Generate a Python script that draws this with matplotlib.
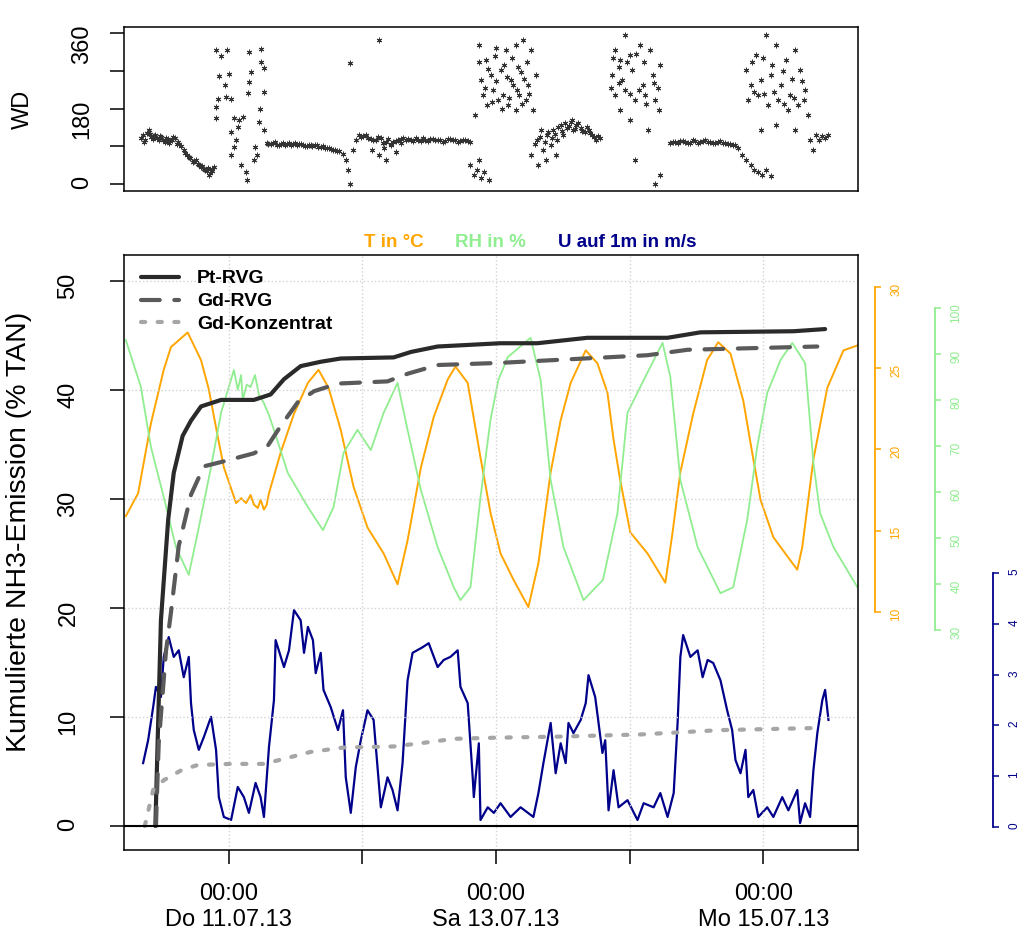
import matplotlib
matplotlib.use('Agg')
import matplotlib.pyplot as plt
import numpy as np

plt.rcParams['font.family'] = ['Liberation Sans', 'DejaVu Sans']

# time in hours since Mi 10.07.13 00:00
day_ticks = [24, 48, 72, 96, 120]
day_labels = ['00:00\nDo 11.07.13', '', '00:00\nSa 13.07.13', '', '00:00\nMo 15.07.13']

# wind direction (top panel)
wd_h = [8.2, 8.7, 9.3, 9.6, 10.0, 10.5, 11.1, 11.6, 12.2, 12.7, 13.2, 13.8, 14.3, 14.8, 15.4, 15.9, 16.5, 17.0,
        17.5, 18.1, 18.6, 19.2, 19.7, 20.2, 20.6, 21.0, 21.3,
        8.5, 9.0, 9.9, 10.3, 10.8, 11.4, 11.9, 12.5, 13.0, 13.5, 14.0, 14.6, 15.1,
        16.2, 16.8, 17.8, 18.4, 19.0, 19.5, 20.0, 20.4, 20.9,
        21.7, 22.6, 23.6, 22.2, 24.0, 23.3, 22.0, 23.5, 24.4, 21.7, 21.7, 24.9, 25.8, 26.5, 24.4, 25.6, 25.3, 24.9,
        24.4, 26.2, 27.1, 27.2, 27.6, 29.7, 29.7, 30.3, 27.9, 27.6, 27.4, 30.3, 29.6, 29.4, 30.3, 28.7, 29.0, 28.5,
        30.8, 31.5, 32.3, 33.0, 33.7, 34.4, 35.1, 35.8, 36.6, 37.3, 38.0, 38.7, 39.4, 40.1, 40.9, 41.6, 42.3, 43.0,
        43.7, 44.5,
        31.1, 31.9, 32.6, 33.4, 34.0, 34.8, 35.5, 36.2, 36.9, 37.7, 38.4, 39.0, 39.8, 40.5, 41.2, 42.0, 42.7, 43.4,
        45.0, 45.4, 45.7, 46.3, 45.7, 46.8, 47.3, 50.9,
        47.7, 48.6, 49.5, 50.4, 51.3, 52.2, 53.1, 54.0, 54.9, 55.8, 56.7, 57.6, 58.5, 59.3, 60.2, 61.1, 62.0, 62.9,
        63.8, 64.7, 65.6, 66.5, 67.4,
        48.1, 49.0, 49.9, 50.8, 51.6, 52.6, 53.5, 54.4, 55.3, 56.2, 57.1, 58.0, 58.9, 59.8, 60.6, 61.5, 62.4, 63.3,
        64.2, 65.1, 66.0, 66.9,
        50.9, 52.2, 51.8, 53.1, 54.0, 49.8, 54.9,
        67.4, 68.0, 68.5, 69.2, 69.9, 70.7, 68.9,
        68.9, 70.1, 72.0, 73.7, 75.5, 76.8, 78.2, 69.2, 71.0, 72.8, 74.6, 76.4, 77.8, 69.6, 71.4, 73.2, 75.0, 76.1,
        77.3, 70.3, 72.3, 74.1, 75.5, 68.3, 78.7, 79.1,
        69.0, 70.6, 71.8, 73.5, 74.8, 76.0, 77.5, 70.0, 72.0, 73.9, 75.8, 77.0, 71.2, 73.0, 74.4, 76.6, 78.0,
        79.4, 80.0, 80.5, 81.1, 81.8, 82.3, 82.9, 83.6, 84.1, 84.7, 85.4, 85.9, 86.4, 87.2, 87.9, 88.6, 89.3, 90.0,
        90.7, 80.9, 82.7, 79.6, 78.2,
        79.0, 79.8, 80.7, 81.4, 82.0, 82.6, 83.2, 83.9, 84.4, 85.1, 85.6, 86.2, 86.8, 87.5, 88.3, 88.9, 89.6, 90.3,
        93.4, 94.3, 95.2, 96.1, 97.9, 99.7, 92.9, 94.7, 96.5, 98.3, 100.1, 101.5, 93.4, 95.2, 97.0, 98.8, 100.6,
        94.3, 96.1, 99.3, 101.2, 97.0, 100.6, 101.5,
        93.0, 94.0, 95.6, 97.2, 98.6, 100.3, 92.6, 94.0, 96.0, 97.6, 99.0, 101.0,
        103.3, 104.2, 105.1, 106.0, 106.9, 107.8, 108.7, 109.6, 110.5, 111.4, 112.3, 113.2, 114.1, 115.0,
        103.7, 104.6, 105.5, 106.4, 107.3, 108.2, 109.1, 110.0, 110.9, 111.8, 112.7, 113.6, 114.5,
        115.5, 116.2, 116.9, 117.7, 118.4, 119.1, 119.8, 120.5, 121.3,
        116.8, 118.6, 120.4, 122.2, 124.0, 125.7, 126.6, 117.7, 119.5, 121.3, 123.1, 124.8, 127.5, 117.3, 119.1,
        120.9, 122.7, 124.5, 126.3, 119.5, 122.2, 125.7, 128.1,
        118.0, 119.9, 121.6, 123.5, 125.2, 126.9, 118.4, 120.2, 122.0, 123.8, 125.5, 127.3,
        128.4, 129.0, 129.5, 130.0, 130.6, 131.1, 131.6]
wd_deg = [110, 100, 122, 129, 112, 114, 110, 114, 105, 110, 98, 105, 110, 100, 91, 81, 69, 62,
          52, 57, 45, 43, 33, 38, 26, 31, 41,
          118, 105, 120, 108, 116, 106, 112, 100, 108, 103, 112, 96, 95,
          75, 65, 55, 48, 40, 36, 30, 22, 35,
          319, 305, 319, 257, 262, 236, 203, 207, 203, 184, 157, 157, 153, 160, 124, 136, 105, 88,
          69, 45, 29, 10, 315, 322, 291, 277, 267, 243, 217, 219, 179, 148, 129, 88, 69, 57,
          98, 95, 100, 93, 97, 95, 92, 98, 95, 93, 90, 94, 92, 88, 90, 86, 84, 80,
          78, 72,
          96, 99, 94, 96, 92, 97, 95, 93, 96, 91, 93, 90, 93, 89, 87, 85, 82, 79,
          57, 33, 0, 81, 288, 105, 117, 343,
          112, 118, 108, 105, 110, 100, 95, 102, 108, 104, 106, 110, 103, 105, 108, 104, 106, 103,
          107, 105, 102, 104, 100,
          115, 110, 104, 112, 98, 107, 100, 104, 110, 107, 103, 106, 109, 102, 107, 105, 101, 108,
          104, 100, 106, 103,
          69, 57, 86, 93, 76, 81, 98,
          45, 21, 33, 14, 29, 10, 57,
          331, 296, 324, 319, 331, 343, 319, 248, 260, 272, 248, 267, 236, 212, 224, 212, 236, 212,
          200, 188, 200, 188, 176, 164, 176, 260,
          290, 275, 305, 285, 300, 280, 290, 230, 245, 255, 225, 250, 195, 180, 205, 190, 215,
          105, 129, 81, 117, 93, 129, 105, 141, 117, 134, 148, 129, 141, 134, 124, 129, 117, 105,
          110, 57, 69, 45, 69,
          95, 112, 100, 124, 110, 120, 136, 126, 145, 138, 152, 132, 145, 127, 137, 121, 112, 115,
          319, 296, 355, 307, 331, 319, 260, 248, 272, 236, 260, 284, 212, 224, 200, 212, 200,
          176, 153, 129, 176, 57, 0, 21,
          300, 280, 290, 310, 290, 240, 230, 240, 215, 225, 190, 230,
          98, 100, 103, 100, 97, 102, 100, 104, 101, 99, 102, 98, 95, 92,
          101, 97, 102, 99, 104, 98, 102, 100, 97, 101, 99, 96, 94,
          86, 69, 57, 45, 33, 29, 21, 33, 19,
          272, 307, 355, 331, 296, 319, 272, 236, 248, 260, 236, 212, 224, 200, 212,
          188, 200, 176, 188, 129, 141, 129, 164,
          290, 300, 285, 270, 250, 245, 220, 215, 220, 190, 205, 200,
          105, 81, 117, 105, 114, 110, 117]

# cumulative NH3 emission (% TAN)
pt_h = [10.8, 11.8, 13.1, 14.1, 15.7, 17.2, 19.0, 22.6, 28.5, 31.5, 33.9, 36.9, 40.5, 44.1, 53.6, 56.7, 61.5,
        72.8, 79.4, 88.4, 102.8, 108.7, 125.4, 131.1]
pt_val = [0, 18.9, 28.1, 32.4, 35.8, 37.2, 38.5, 39.1, 39.1, 39.6, 41.0, 42.2, 42.6, 42.9, 43.0, 43.5, 44.0,
          44.3, 44.3, 44.8, 44.8, 45.3, 45.4, 45.6]
gd_h = [10.9, 11.4, 12.7, 13.6, 15.0, 17.2, 19.5, 22.6, 28.5, 31.0, 33.3, 36.4, 39.3, 43.6, 52.5, 56.1, 61.5,
        72.8, 84.1, 99.2, 106.4, 129.7]
gd_val = [0, 7.6, 16.0, 19.6, 25.7, 30.4, 33.0, 33.4, 34.2, 34.9, 36.7, 38.9, 39.9, 40.6, 40.8, 41.5, 42.3,
          42.5, 42.8, 43.2, 43.7, 44.0]
konz_h = [8.9, 10.4, 12.3, 15.4, 18.4, 24.4, 30.3, 35.7, 38.7, 44.6, 53.6, 58.5, 64.4, 71.6, 83.0, 97.9,
          112.3, 130.2]
konz_val = [0, 3.3, 4.2, 5.1, 5.6, 5.7, 5.7, 6.4, 6.8, 7.2, 7.3, 7.6, 8.0, 8.1, 8.2, 8.4, 8.8, 9.0]

# temperature in degC
t_h = [5.5, 7.7, 10.0, 12.3, 13.6, 16.6, 19.0, 20.4, 22.0, 23.1, 25.3, 26.2, 27.1, 27.9, 28.5, 29.2, 29.7,
       30.3, 30.8, 31.2, 33.3, 35.7,
       38.2, 40.1, 41.9, 44.1, 46.4, 48.9, 51.8, 54.3, 56.1, 58.5, 60.8, 63.3, 64.7, 66.9, 69.2, 71.0, 72.8,
       75.1, 77.8, 79.6, 81.8, 83.6, 85.4, 88.1, 90.2, 92.0, 93.1, 94.3, 96.1, 99.2, 102.4, 103.7, 105.1,
       107.4, 109.9, 111.9, 114.1, 116.4, 118.0, 119.5, 121.8, 124.8, 126.1, 127.0, 129.0, 131.5, 134.4, 136.9]
t_val = [15.9, 17.3, 21.6, 24.9, 26.3, 27.2, 25.5, 23.7, 20.8, 18.9, 16.7, 17.0, 16.7, 17.2, 16.6, 16.4, 16.9,
         16.3, 16.6, 17.3, 19.8, 22.2,
         24.1, 24.9, 23.8, 21.2, 17.7, 15.2, 13.6, 11.7, 14.4, 18.9, 22.0, 24.3, 25.1, 24.1, 19.5, 16.1, 13.6,
         12.0, 10.3, 13.0, 18.6, 21.8, 24.1, 26.1, 25.3, 23.5, 20.6, 18.1, 14.9, 13.6, 11.8, 14.9, 18.6,
         22.2, 25.5, 26.6, 25.9, 23.0, 19.8, 16.9, 14.6, 13.2, 12.6, 14.0, 19.4, 23.8, 26.1, 26.4]

# relative humidity in %
rh_h = [5.5, 8.2, 10.0, 12.3, 14.5, 16.8, 18.4, 20.8, 22.6, 24.9, 25.6, 26.2, 26.5, 27.2, 27.9, 28.7, 29.4,
        30.3, 31.2, 32.1, 34.6, 38.2, 40.9,
        42.8, 44.6, 47.1, 49.5, 51.8, 54.3, 56.1, 58.5, 61.5, 64.4, 65.6, 67.4, 69.2, 71.0, 72.4, 74.1, 78.2,
        80.0, 81.8, 84.1, 87.7, 91.2, 93.8, 95.6, 98.5, 101.9, 103.3, 105.1, 108.2, 112.3, 114.6, 117.1,
        118.9, 120.7, 123.1, 125.2, 127.5, 129.0, 130.2, 132.6, 136.9]
rh_val = [93.0, 82.8, 69.8, 58.9, 48.0, 42.0, 51.1, 65.4, 77.2, 86.5, 82.2, 85.4, 80.0, 83.3, 82.8, 85.4, 81.1,
          79.3, 76.7, 73.5, 64.1, 56.7, 51.7,
          56.7, 68.5, 73.5, 69.1, 77.2, 83.7, 73.5, 60.4, 48.0, 39.3, 36.5, 39.3, 58.9, 75.7, 84.3, 89.3, 93.5,
          84.3, 62.6, 48.0, 36.5, 40.9, 55.4, 77.2, 84.3, 92.4, 85.0, 62.6, 48.0, 38.0, 39.3, 53.9,
          69.8, 81.5, 88.7, 92.4, 88.0, 66.3, 55.4, 48.0, 39.3]

# wind speed at 1 m in m/s
u_h = [8.6, 9.5, 10.4, 10.9, 11.8, 12.3, 13.2, 14.1, 15.0, 15.9, 16.8, 17.2, 17.7, 18.6, 19.5, 20.8, 21.7,
       22.2, 23.1, 24.4, 25.6, 26.7, 27.6, 28.8, 29.7, 30.3, 31.2, 32.1, 32.4, 33.9, 34.8, 35.7, 36.9, 37.5,
       38.2, 39.1, 39.6, 40.5, 41.0, 42.3, 43.6, 44.5, 45.0, 45.9, 46.8, 47.7, 48.9, 50.0, 50.7, 51.3, 52.5,
       53.4, 54.3, 55.2, 56.1, 57.0, 58.8, 59.9, 61.5, 62.6, 63.8, 65.1, 65.6, 66.9, 67.8, 68.0, 68.9, 69.2,
       70.5, 71.6, 72.8, 74.6, 76.4, 78.7, 79.6, 80.5, 81.8, 82.7, 83.6, 84.5, 85.0, 85.9, 87.2, 88.1, 88.6,
       89.8, 90.4, 91.1, 91.6, 92.2, 93.1, 94.0, 95.6, 97.4, 98.5, 100.3, 101.5, 102.8, 103.9, 104.6, 105.1,
       105.6, 106.9, 108.2, 109.1, 110.0, 111.0, 112.3, 113.5, 114.4, 115.0, 115.9, 116.8, 117.3, 118.2,
       119.1, 120.7, 121.8, 123.4, 124.5, 126.1, 126.6, 127.5, 128.4, 129.0, 129.7, 130.6, 131.1, 131.7]
u_val = [1.26, 1.71, 2.36, 2.76, 2.56, 3.35, 3.74, 3.35, 3.48, 2.95, 3.35, 2.44, 1.91, 1.52, 1.77, 2.17, 1.52,
         0.59, 0.20, 0.14, 0.79, 0.59, 0.28, 0.87, 0.59, 0.20, 1.57, 2.50, 3.68, 3.15, 3.48, 4.27, 4.07, 3.43,
         3.94, 3.68, 3.03, 3.43, 2.70, 2.36, 1.91, 2.30, 0.98, 0.28, 1.18, 1.71, 2.30, 2.11, 1.18, 0.39, 0.98,
         0.73, 0.33, 1.26, 2.89, 3.43, 3.54, 3.62, 3.15, 3.29, 3.35, 3.48, 2.76, 2.44, 0.98, 0.59, 1.65, 0.14,
         0.39, 0.28, 0.47, 0.20, 0.39, 0.20, 0.67, 1.26, 2.05, 1.06, 1.65, 1.26, 2.05, 1.85, 2.11, 2.44, 2.99,
         2.56, 2.05, 1.46, 1.71, 0.33, 1.12, 0.39, 0.53, 0.14, 0.47, 0.39, 0.67, 0.20, 0.67, 2.05, 3.35,
         3.78, 3.35, 3.48, 2.95, 3.29, 3.23, 2.89, 2.30, 1.91, 1.32, 1.06, 1.52, 0.59, 0.73,
         0.20, 0.39, 0.20, 0.59, 0.33, 0.73, 0.08, 0.47, 0.20, 1.12, 1.85, 2.50, 2.70, 2.11]

fig = plt.figure(figsize=(10.22, 9.36), dpi=100)

#top panel: wind direction
ax_wd = fig.add_axes([0.1213, 0.7959, 0.7182, 0.1752])
ax_wd.plot(wd_h, wd_deg, linestyle='none', marker=(6, 2, 0), markersize=4, markeredgewidth=0.7,
           color='#333333')
ax_wd.set_xlim(5.16, 137.0)
ax_wd.set_ylim(-16.7, 374.3)
ax_wd.set_xticks([])
ax_wd.set_yticks([0, 90, 180, 270, 360])
ax_wd.set_yticklabels(['0', '', '180', '', '360'])
ax_wd.tick_params(axis='y', labelrotation=90, labelsize=17, length=10, width=1.1, pad=12)
for s in ax_wd.spines.values():
    s.set_linewidth(1.1)
ax_wd.set_ylabel('WD', fontsize=17)
ax_wd.yaxis.set_label_coords(-0.123, 0.5)

#bottom panel: cumulative emission + weather
ax = fig.add_axes([0.1213, 0.0919, 0.7182, 0.6357])
ax_t = ax.twinx()
ax_rh = ax.twinx()
ax_u = ax.twinx()

ax.set_zorder(5)
ax.patch.set_visible(False)

ax_t.plot(t_h, t_val, color='#FFA500', lw=1.4)
ax_rh.plot(rh_h, rh_val, color='#90EE90', lw=1.3)
ax_u.plot(u_h, u_val, color='#00008B', lw=1.6)

ax_t.set_ylim(-4.65, 31.97)
ax_rh.set_ylim(-17.8, 111.5)
ax_u.set_ylim(-0.45, 11.26)

side_axes = [(ax_t, '#FFA500', 12.2, (10, 30), [10, 15, 20, 25, 30]),
             (ax_rh, '#90EE90', 55.4, (30, 100), [30, 40, 50, 60, 70, 80, 90, 100]),
             (ax_u, '#00008B', 97.2, (0, 5), [0, 1, 2, 3, 4, 5])]
for a, col, off, bnd, tks in side_axes:
    for name in ['left', 'top', 'bottom']:
        a.spines[name].set_visible(False)
    a.spines['right'].set_position(('outward', off))
    a.spines['right'].set_bounds(*bnd)
    a.spines['right'].set_color(col)
    a.spines['right'].set_linewidth(1.3)
    a.set_yticks(tks)
    a.tick_params(axis='y', colors=col, labelsize=8.5, labelrotation=90, length=4, width=1.1, pad=7)
    a.set_xlim(5.16, 137.0)

ax.plot(pt_h, pt_val, color='#2a2a2a', lw=3, solid_capstyle='round', label='Pt-RVG')
ax.plot(gd_h, gd_val, color='#5a5a5a', lw=3, dashes=(4.5, 3.5), dash_capstyle='round', label='Gd-RVG')
ax.plot(konz_h, konz_val, color='#a6a6a6', lw=3, dashes=(1, 3), dash_capstyle='round', label='Gd-Konzentrat')
ax.axhline(0, color='black', lw=1.5)

ax.set_xlim(5.16, 137.0)
ax.set_ylim(-2.2, 52.4)
ax.set_yticks([0, 10, 20, 30, 40, 50])
ax.set_xticks(day_ticks)
ax.set_xticklabels(day_labels)
ax.grid(True, color='#d3d3d3', linestyle=':', lw=1)
ax.tick_params(axis='y', labelrotation=90, labelsize=17, length=10, width=1.1, pad=22)
ax.tick_params(axis='x', labelsize=17, length=10, width=1.1, pad=14)
for s in ax.spines.values():
    s.set_linewidth(1.1)
ax.set_ylabel('Kumulierte NH3-Emission (% TAN)', fontsize=20.5)
ax.yaxis.set_label_coords(-0.125, 0.535)

ax.legend(loc='upper left', bbox_to_anchor=(0.012, 0.988), borderaxespad=0, frameon=False,
          prop={'weight': 'bold', 'size': 14}, handlelength=2.0, handletextpad=0.9, labelspacing=0.27)

#colored header for the weather lines
fig.text(394 / 1022, 0.7404, 'T in °C', color='#FFA500', fontsize=13.5, fontweight='bold', ha='center', va='center')
fig.text(490 / 1022, 0.7404, 'RH in %', color='#90EE90', fontsize=13.5, fontweight='bold', ha='center', va='center')
fig.text(627 / 1022, 0.7404, 'U auf 1m in m/s', color='#00008B', fontsize=13.5, fontweight='bold', ha='center', va='center')

plt.savefig('out.png', dpi=100)
